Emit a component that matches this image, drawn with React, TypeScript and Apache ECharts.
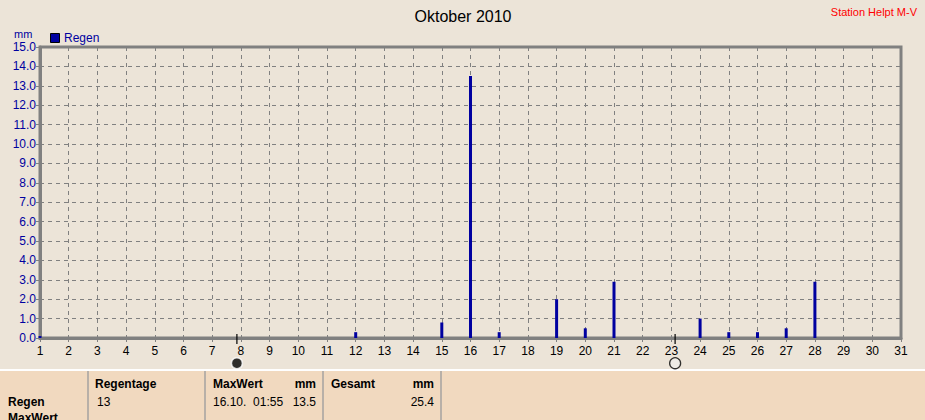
import React, { useEffect, useRef } from "react";
import * as echarts from "echarts";

const days: number[] = [1, 12, 15, 16, 17, 19, 20, 21, 24, 25, 26, 27, 28];
const rain: number[] = [0.1, 0.3, 0.8, 13.5, 0.3, 2.0, 0.5, 2.9, 1.0, 0.3, 0.3, 0.5, 2.9];
const newMoonDay = 7.86;
const fullMoonDay = 23.13;
const title = "Oktober 2010";
const station = "Station Helpt M-V";
const seriesName = "Regen";

const FONT = "'Liberation Sans', Arial, sans-serif";
const BG = "#ece4d8";
const TABLE_BG = "#f1d9bf";

export default function App() {
  const ref = useRef<HTMLDivElement>(null);
  useEffect(() => {
    if (!ref.current) return;
    const chart = echarts.init(ref.current, undefined, { renderer: "svg" });
    const barData = days.map((d, i) => [d, rain[i]]);
    const t = (x: number, y: number, text: string, opts: any = {}) => ({
      type: "text",
      x,
      y,
      style: {
        text,
        fontFamily: FONT,
        fontSize: 12,
        fill: "#000",
        textVerticalAlign: "middle",
        ...opts,
      },
    });
    const sep = (x: number) => ({
      type: "rect",
      shape: { x, y: 371, width: 2, height: 49 },
      style: { fill: "#b8b0a8" },
    });
    chart.setOption({
      animation: false,
      backgroundColor: BG,
      grid: {
        left: 40,
        top: 47,
        width: 861,
        height: 291,
        show: true,
        borderColor: "#808080",
        borderWidth: 3,
        backgroundColor: "transparent",
      },
      xAxis: {
        type: "value",
        min: 1,
        max: 31,
        interval: 1,
        axisLine: { show: true, onZero: false, lineStyle: { color: "#808080", width: 3 } },
        axisTick: { show: true, length: 4, lineStyle: { color: "#808080" } },
        axisLabel: { color: "#000", fontFamily: FONT, fontSize: 12, margin: 7 },
        splitLine: { show: true, lineStyle: { color: "#808080", type: [4, 4], width: 1 } },
      },
      yAxis: {
        type: "value",
        min: 0,
        max: 15,
        interval: 1,
        axisLine: { show: true, lineStyle: { color: "#808080", width: 3 } },
        axisTick: { show: true, length: 4, lineStyle: { color: "#808080" } },
        axisLabel: {
          color: "#0000a0",
          fontFamily: FONT,
          fontSize: 12,
          margin: 4,
          formatter: (v: number) => v.toFixed(1),
        },
        splitLine: { show: true, lineStyle: { color: "#808080", type: [4, 4], width: 1 } },
      },
      series: [
        {
          name: seriesName,
          type: "bar",
          data: barData,
          barWidth: 3,
          itemStyle: { color: "#0000a0" },
          silent: true,
        },
        {
          type: "scatter",
          clip: false,
          silent: true,
          symbol: "rect",
          symbolSize: [1.5, 10],
          itemStyle: { color: "#000" },
          data: [
            [newMoonDay, -0.05],
            [fullMoonDay, -0.05],
          ],
        },
        {
          type: "scatter",
          clip: false,
          silent: true,
          symbol: "circle",
          symbolSize: 11,
          itemStyle: { color: "#000", borderColor: "#fff", borderWidth: 1.5 },
          data: [[newMoonDay, -1.3]],
        },
        {
          type: "scatter",
          clip: false,
          silent: true,
          symbol: "circle",
          symbolSize: 11,
          itemStyle: { color: "#efece8", borderColor: "#000", borderWidth: 1.3 },
          data: [[fullMoonDay, -1.3]],
        },
      ],
      graphic: [
        t(463, 16, title, { fontSize: 16, textAlign: "center" }),
        t(917, 12, station, { fontSize: 11, fill: "#ff0000", textAlign: "right" }),
        t(14, 34, "mm", { fontSize: 11, fill: "#0000a0" }),
        {
          type: "rect",
          shape: { x: 50.5, y: 33.5, width: 9, height: 9 },
          style: { fill: "#0000a0", stroke: "#000", lineWidth: 1 },
        },
        t(64, 38, seriesName, { fontSize: 12, fill: "#0000a0" }),
        {
          type: "rect",
          shape: { x: 0, y: 369, width: 925, height: 2 },
          style: { fill: "#ffffff" },
        },
        {
          type: "rect",
          shape: { x: 0, y: 371, width: 925, height: 49 },
          style: { fill: TABLE_BG },
        },
        sep(87),
        sep(204),
        sep(322),
        sep(440),
        t(8, 402, "Regen", { fontWeight: "bold" }),
        t(8, 418, "MaxWert", { fontWeight: "bold" }),
        t(95, 384, "Regentage", { fontWeight: "bold" }),
        t(97, 402, "13"),
        t(213, 384, "MaxWert", { fontWeight: "bold" }),
        t(316, 384, "mm", { fontWeight: "bold", textAlign: "right" }),
        t(213, 402, "16.10.  01:55"),
        t(316, 402, "13.5", { textAlign: "right" }),
        t(331, 384, "Gesamt", { fontWeight: "bold" }),
        t(434, 384, "mm", { fontWeight: "bold", textAlign: "right" }),
        t(434, 402, "25.4", { textAlign: "right" }),
      ],
    });
    return () => chart.dispose();
  }, []);
  return (
    <div
      ref={ref}
      style={{ position: "absolute", left: 0, top: 0, width: 925, height: 420 }}
    />
  );
}
